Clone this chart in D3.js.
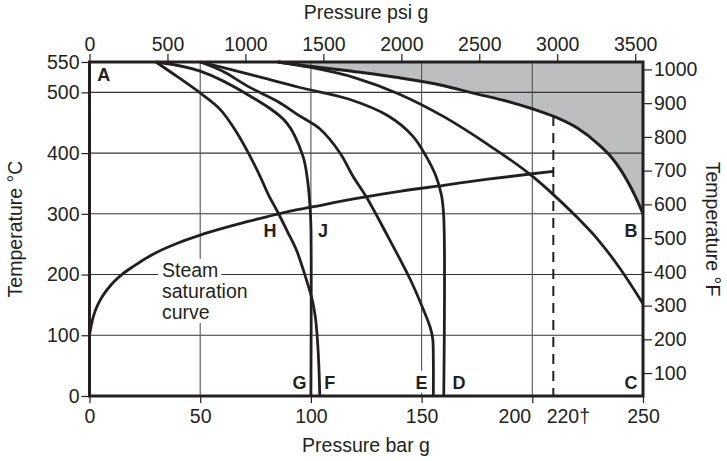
<!DOCTYPE html>
<html>
<head>
<meta charset="utf-8">
<script src="https://cdn.jsdelivr.net/npm/d3@7"></script>
<style>
  body { margin: 0; background: #fff; }
  text { font-family: "Liberation Sans", Arial, sans-serif; fill: #231f20; }
</style>
</head>
<body>
<div id="chart"></div>
<script>
const W = 727, H = 461,
  ink = "#231f20",
  shade = "#bcbec0",
  fs = 19.5;

// axis ticks
const barTicks = [0, 50, 100, 150, 200, 250];
const psiTicks = [0, 500, 1000, 1500, 2000, 2500, 3000, 3500];
const celsiusTicks = [0, 100, 200, 300, 400, 500, 550];
const fahrenheitTicks = [100, 200, 300, 400, 500, 600, 700, 800, 900, 1000];
const gridBar = [50, 100, 150, 200];
const gridTemp = [100, 200, 300, 400, 500];

// curves, [bar g, degC]
const saturation = [[0, 100], [1, 120], [2, 134], [4, 152], [6, 165], [10, 184], [15, 201],
  [20, 214], [30, 236], [40, 252], [50, 265], [60, 276], [70, 286], [80, 295], [90, 304],
  [100, 311], [120, 325], [140, 337], [160, 347], [180, 357], [200, 366], [209.5, 370]];
const limitB = [[85, 550], [95, 545], [120, 534], [140, 524], [160, 511], [172, 500],
  [190, 484], [200, 473], [210, 460], [220, 442], [230, 414], [236, 392], [240, 372],
  [244, 347], [247, 325], [250, 300]];
const curve150 = [[85, 550], [100, 541], [120, 524], [140, 497], [160, 460], [180, 414],
  [200, 362], [210, 330], [220, 295], [230, 256], [240, 208], [250, 152]];
const curveD = [[50, 550], [60, 541], [75, 527], [95, 508], [117, 489], [135, 461],
  [146, 428], [152, 395], [156.5, 362], [159, 330], [160, 295], [160, 0]];
const curveE = [[50, 550], [60, 535], [72, 509], [85, 485], [95, 461], [104, 440],
  [113, 401], [119, 362], [125, 328], [134, 268], [145, 191], [150.5, 145],
  [153.8, 114], [155, 95], [155.3, 60], [155.3, 0]];
const curveJ = [[30, 550], [50, 535], [72.5, 494], [89, 450], [96.4, 395], [98.5, 355],
  [99.6, 312], [100, 280], [100, 0]];
const curveH = [[30, 550], [40, 525], [50, 499], [59, 472], [66.5, 434], [72.5, 395],
  [77, 362], [81, 330], [85, 303], [89.5, 270], [93.5, 240], [98, 191], [100.5, 160],
  [102, 130], [103, 90], [103.7, 40], [104, 0]];
const critical = { bar: 209.5, top: 461, label: "220\u2020" };

const letters = [
  { t: "A", bar: 3.5, c: 518, anchor: "start" },
  { t: "B", bar: 247.5, c: 262, anchor: "end" },
  { t: "C", bar: 247.5, c: 12, anchor: "end" },
  { t: "D", bar: 164, c: 12, anchor: "start" },
  { t: "E", bar: 150, c: 12, anchor: "middle", box: true },
  { t: "F", bar: 106, c: 12, anchor: "start" },
  { t: "G", bar: 98, c: 12, anchor: "end" },
  { t: "H", bar: 81.5, c: 262, anchor: "middle" },
  { t: "J", bar: 105.5, c: 262, anchor: "middle" }
];
const steamLabel = ["Steam", "saturation", "curve"];

const svg = d3.select("#chart").append("svg")
  .attr("width", W).attr("height", H);

const x = d3.scaleLinear().domain([0, 250]).range([89.5, 643]);
const xPsi = d3.scaleLinear().domain([0, 3550]).range([89.5, 643]);
const y = d3.scaleLinear().domain([0, 550]).range([396, 62]);
const yF = d3.scaleLinear().domain([32, 1022]).range([396, 62]);

const line = d3.line()
  .x(d => x(d[0])).y(d => y(d[1]))
  .curve(d3.curveCatmullRom.alpha(0.5));
const lineX = d3.line()
  .x(d => x(d[0])).y(d => y(d[1]))
  .curve(d3.curveMonotoneX);

// shaded region above B limit
svg.append("path")
  .datum(limitB)
  .attr("fill", shade)
  .attr("d", d3.area().x(d => x(d[0])).y0(y(550)).y1(d => y(d[1])).curve(d3.curveMonotoneX));

// grid
svg.append("g").selectAll("line").data(gridTemp).join("line")
  .attr("x1", x(0)).attr("x2", x(250))
  .attr("y1", d => y(d)).attr("y2", d => y(d))
  .attr("stroke", "#333").attr("stroke-width", 1.1);
svg.append("g").selectAll("line").data(gridBar).join("line")
  .attr("x1", d => x(d)).attr("x2", d => x(d))
  .attr("y1", y(0)).attr("y2", y(550))
  .attr("stroke", "#555").attr("stroke-width", 1.1);

// critical pressure
svg.append("line")
  .attr("x1", x(critical.bar)).attr("x2", x(critical.bar))
  .attr("y1", y(critical.top)).attr("y2", y(0))
  .attr("stroke", ink).attr("stroke-width", 2)
  .attr("stroke-dasharray", "10,7");

// steam label with white backing
const steam = svg.append("g");
steamLabel.forEach((s, i) => {
  const t = steam.append("text")
    .attr("x", 162).attr("y", 277 + i * 21)
    .attr("font-size", fs).text(s);
  const b = t.node().getBBox();
  steam.insert("rect", "text")
    .attr("x", b.x - 4).attr("y", b.y)
    .attr("width", b.width + 7).attr("height", b.height)
    .attr("fill", "#fff");
});

// curves
[curveD, curveE, curveJ, curveH].forEach(c => {
  svg.append("path").datum(c)
    .attr("fill", "none").attr("stroke", ink)
    .attr("stroke-width", 2.8).attr("stroke-linejoin", "round")
    .attr("d", line);
});
[saturation, curve150].forEach(c => {
  svg.append("path").datum(c)
    .attr("fill", "none").attr("stroke", ink)
    .attr("stroke-width", 2.8).attr("d", lineX);
});
svg.append("path").datum(limitB)
  .attr("fill", "none").attr("stroke", ink)
  .attr("stroke-width", 3).attr("d", lineX);

// frame
svg.append("rect")
  .attr("x", x(0)).attr("y", y(550))
  .attr("width", x(250) - x(0)).attr("height", y(0) - y(550))
  .attr("fill", "none").attr("stroke", ink).attr("stroke-width", 3);

// letters
letters.forEach(l => {
  const t = svg.append("text")
    .attr("x", x(l.bar)).attr("y", y(l.c))
    .attr("text-anchor", l.anchor)
    .attr("font-size", 18).attr("font-weight", "bold")
    .text(l.t);
  if (l.box) {
    const b = t.node().getBBox();
    svg.insert("rect", () => t.node())
      .attr("x", b.x - 1).attr("y", b.y - 2)
      .attr("width", b.width + 2).attr("height", b.height + 2)
      .attr("fill", "#fff");
  }
});

// axes
function styleAxis(g) {
  g.select(".domain").remove();
  g.selectAll(".tick line").attr("stroke", ink).attr("stroke-width", 1.2);
  g.selectAll(".tick text").attr("font-size", fs)
    .style("font-family", "Liberation Sans, Arial, sans-serif").attr("fill", ink);
}
const fmt = d3.format("d");

svg.append("g").attr("transform", "translate(" + x(0) + ",0)")
  .call(d3.axisLeft(y).tickValues(celsiusTicks).tickFormat(fmt).tickSize(8).tickPadding(2))
  .call(styleAxis);
svg.append("g").attr("transform", "translate(" + x(250) + ",0)")
  .call(d3.axisRight(yF).tickValues(fahrenheitTicks).tickFormat(fmt).tickSize(9).tickPadding(2))
  .call(styleAxis);
const bottom = svg.append("g").attr("transform", "translate(0," + y(0) + ")")
  .call(d3.axisBottom(x).tickValues(barTicks).tickFormat(fmt).tickSize(7).tickPadding(6))
  .call(styleAxis);
bottom.selectAll(".tick text").filter(d => d === 200).attr("dx", -18);
bottom.append("text")
  .attr("x", x(critical.bar) + 15).attr("y", 13).attr("dy", "0.71em")
  .attr("text-anchor", "middle").attr("font-size", fs).attr("fill", ink)
  .text(critical.label);
svg.append("g").attr("transform", "translate(0," + y(550) + ")")
  .call(d3.axisTop(xPsi).tickValues(psiTicks).tickFormat(fmt).tickSize(8).tickPadding(3))
  .call(styleAxis);

// titles
svg.append("text").attr("x", 366).attr("y", 19)
  .attr("text-anchor", "middle").attr("font-size", fs).text("Pressure psi g");
svg.append("text").attr("x", 366).attr("y", 452)
  .attr("text-anchor", "middle").attr("font-size", fs).text("Pressure bar g");
svg.append("text")
  .attr("transform", "translate(22,229) rotate(-90)")
  .attr("text-anchor", "middle").attr("font-size", fs).text("Temperature \u00b0C");
svg.append("text")
  .attr("transform", "translate(706,229) rotate(90)")
  .attr("text-anchor", "middle").attr("font-size", fs).text("Temperature \u00b0F");
</script>
</body>
</html>
